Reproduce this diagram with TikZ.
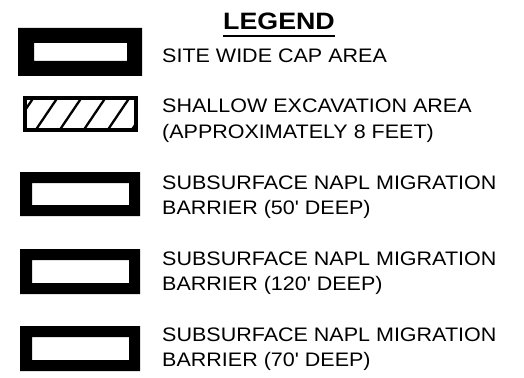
\documentclass[tikz,border=0pt]{standalone}
\usepackage{fontspec}
\newfontfamily\lgreg[FakeStretch=1.1]{Liberation Sans}
\newfontfamily\lgbold[FakeStretch=1.13]{Liberation Sans Bold}
\begin{document}
\begin{tikzpicture}[x=1pt,y=-1pt,
  txt/.style={anchor=base west,inner sep=0pt,font=\lgreg\fontsize{19.55}{25}\selectfont},
  ttl/.style={anchor=base west,inner sep=0pt,font=\lgbold\fontsize{23.7}{28}\selectfont},
  capbox/.style={fill=black,even odd rule},
  hatchline/.style={line width=2.3pt},
  hatchframe/.style={line width=4pt}]
\fill[white] (0,0) rectangle (524,377);
\useasboundingbox (0,0) rectangle (524,377);
% title
\node[ttl] (lg) at (223,29.3) {LEGEND};
\draw[line width=2.5pt] ([yshift=-6.5pt]lg.base west) -- ([yshift=-6.5pt]lg.base east);
% site wide cap
\fill[capbox] (18,28) rectangle (142,76) (34,43) rectangle (127,61);
\node[txt] (t1) at (162,62.3) {SITE WIDE CAP AREA};
% shallow excavation
\begin{scope}
\clip (25,98.5) rectangle (136,130);
\foreach \k in {-1,...,4}
  \draw[hatchline] (35.7+24*\k,130) -- (57+24*\k,98.5);
\end{scope}
\draw[hatchframe] (25,98.5) rectangle (136,130);
\node[txt] (t2a) at (162,113) {SHALLOW EXCAVATION AREA};
\node[txt] (t2b) at (162,138) {(APPROXIMATELY 8 FEET)};
% barriers
\fill[capbox] (20,172) rectangle (140,216) (32,183) rectangle (129,205);
\node[txt] (t3a) at (162,189) {SUBSURFACE NAPL MIGRATION};
\node[txt] (t3b) at (162,214) {BARRIER (50' DEEP)};
\fill[capbox] (20,249) rectangle (140,294) (32,260) rectangle (129,283);
\node[txt] (t4a) at (162,265) {SUBSURFACE NAPL MIGRATION};
\node[txt] (t4b) at (162,290) {BARRIER (120' DEEP)};
\fill[capbox] (20,326) rectangle (140,371) (32,337) rectangle (129,360);
\node[txt] (t5a) at (162,341) {SUBSURFACE NAPL MIGRATION};
\node[txt] (t5b) at (162,366) {BARRIER (70' DEEP)};
\end{tikzpicture}
\end{document}
